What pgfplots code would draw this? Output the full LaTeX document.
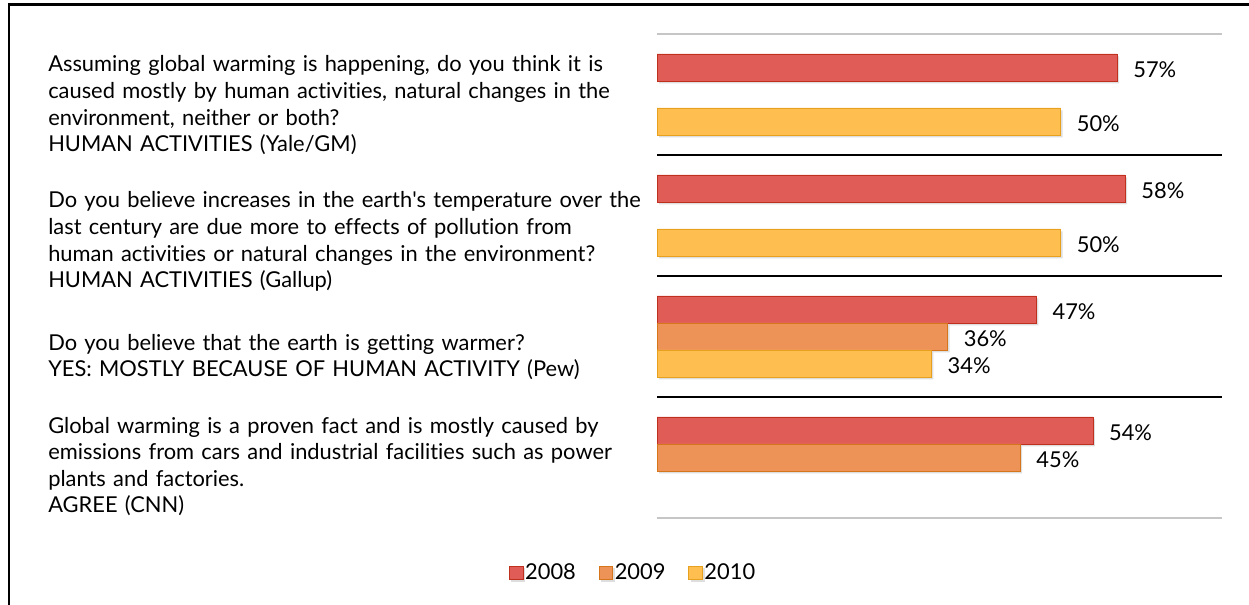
\documentclass[border=0pt]{standalone}
\usepackage{pgfplots}
\pgfplotsset{compat=1.18}
\usepackage{fontspec}
\setmainfont{Lato}[Ligatures={TeX,NoCommon}]
\definecolor{c08}{HTML}{E05C57}
\definecolor{c08d}{HTML}{C0301F}
\definecolor{c09}{HTML}{EE9357}
\definecolor{c09d}{HTML}{D5761C}
\definecolor{c10}{HTML}{FFBF50}
\definecolor{c10d}{HTML}{E8A11F}
\newcommand\lab{\fontsize{16.4}{19.9}\selectfont}
\pgfplotsset{
  legsq/.style={legend image code/.code={\draw[##1, line width=0.8pt] (0pt,-5.2pt) rectangle (10.4pt,5.2pt);}},
  shad/.style={preaction={fill=black, fill opacity=0.13, draw=none, transform canvas={xshift=1.5pt,yshift=-1.8pt}}}
}
\begin{document}
\begin{tikzpicture}
\path[use as bounding box, fill=white] (0,0) rectangle (936.75pt,-453.75pt);
\draw[line width=2.2pt] (6.75pt,-460pt) -- (6.75pt,-3.4pt) -- (945pt,-3.4pt);
\begin{axis}[
  at={(492.75pt,-25.5pt)}, anchor=north west,
  scale only axis, width=423.75pt, height=363pt,
  xbar, bar width=20.25pt,
  xmin=0, xmax=70, ymin=-0.5, ymax=3.5,
  clip=false,
  separate axis lines,
  every outer y axis line/.append style={draw=none},
  every outer x axis line/.append style={draw=gray!45, line width=0.8pt},
  xtick=\empty,
  ytick={0.202,0.888,2.062,3.186},
  yticklabels={
    {Global warming is a proven fact and is mostly caused by\\emissions from cars and industrial facilities such as power\\plants and factories.\\AGREE (CNN)},
    {Do you believe that the earth is getting warmer?\\YES: MOSTLY BECAUSE OF HUMAN ACTIVITY (Pew)},
    {Do you believe increases in the earth\textquotesingle s temperature over the\\last century are due more to effects of pollution from\\human activities or natural changes in the environment?\\HUMAN ACTIVITIES (Gallup)},
    {Assuming global warming is happening, do you think it is\\caused mostly by human activities, natural changes in the\\environment, neither or both?\\HUMAN ACTIVITIES (Yale/GM)}},
  major tick length=0pt,
  yticklabel style={anchor=base west, xshift=-456.75pt, inner sep=0pt, text width=650pt, align=left, font=\lab},
  extra y ticks={0.5,1.5,2.5},
  extra y tick labels={},
  extra y tick style={grid=major, major grid style={black, line width=2pt}},
  point meta=x,
  nodes near coords={\pgfmathprintnumber{\pgfplotspointmeta}\%},
  nodes near coords style={anchor=west, inner sep=0pt, xshift=12pt, yshift=-2pt, font=\lab},
  /pgf/number format/assume math mode=true,
  legend style={at={(axis description cs:-0.043,-0.1136)}, anchor=center, draw=none, fill=none,
    legend columns=3, font=\lab, nodes={inner sep=1pt},
    /tikz/every even column/.append style={column sep=16pt}},
]
\addplot[fill=c08, draw=c08d, bar shift=20.25pt, shad, legsq] coordinates {(57,3) (58,2) (47,1) (54,0)};
\addplot[fill=c09, draw=c09d, bar shift=0pt, shad, legsq] coordinates {(36,1) (45,0)};
\addplot[fill=c10, draw=c10d, bar shift=-20.25pt, shad, legsq] coordinates {(50,3) (50,2) (34,1)};
\legend{2008,2009,2010}
\end{axis}
\end{tikzpicture}
\end{document}
